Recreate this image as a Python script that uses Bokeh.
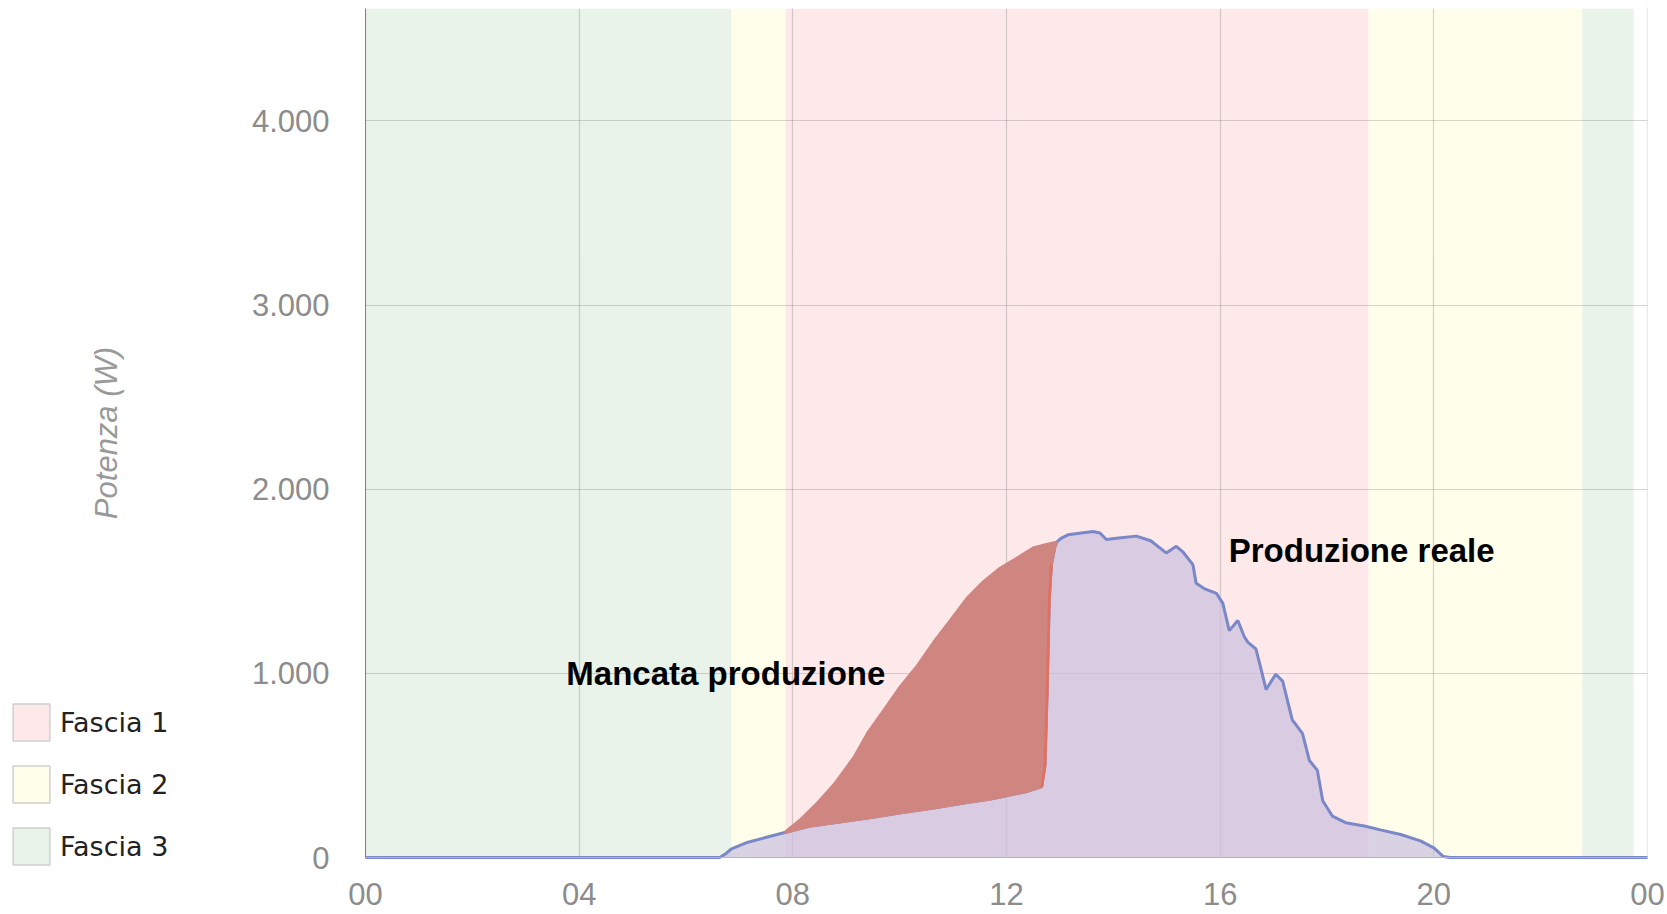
from bokeh.plotting import figure
from bokeh.models import ColumnDataSource, Label, Legend, LegendItem, FixedTicker, BoxAnnotation
from bokeh.embed import file_html
from bokeh.resources import INLINE

# ---------------- data ----------------
# Produzione reale (W) over the day (hours)
hours_actual = [0, 6.63, 6.75, 6.85, 7.16, 7.47, 7.85, 8.3, 8.77, 9.4, 10.02, 10.6, 11.26,
                11.7, 12.0, 12.4, 12.66, 12.72, 12.76, 12.80, 12.84, 12.9, 12.94, 13.02,
                13.15, 13.4, 13.62, 13.75, 13.87, 14.1, 14.43, 14.7, 14.99, 15.18, 15.3,
                15.49, 15.55, 15.7, 15.93, 16.05, 16.17, 16.33, 16.45, 16.52, 16.67, 16.75,
                16.86, 17.04, 17.17, 17.35, 17.54, 17.67, 17.82, 17.92, 18.1, 18.35, 18.72,
                19.0, 19.38, 19.75, 20.0, 20.18, 20.3, 24]
power_actual = [0, 0, 22, 47, 83, 107, 136, 170, 188, 215, 243, 268, 298,
                318, 335, 360, 385, 500, 900, 1400, 1590, 1680, 1712, 1733,
                1752, 1762, 1770, 1762, 1727, 1735, 1745, 1720, 1654, 1690, 1660,
                1590, 1489, 1460, 1434, 1380, 1232, 1287, 1200, 1168, 1132, 1040,
                912, 995, 958, 747, 674, 527, 473, 308, 225, 189, 170,
                150, 125, 90, 52, 5, 0, 0]

# Mancata produzione: upper boundary (expected production) where it differs
hours_expected = [7.85, 8.15, 8.47, 8.78, 9.15, 9.4, 9.71, 10.02, 10.33, 10.64, 10.95,
                  11.26, 11.57, 11.88, 12.2, 12.5, 12.75, 12.94]
power_expected = [136, 207, 298, 399, 546, 675, 802, 930, 1040, 1170, 1287,
                  1407, 1498, 1571, 1626, 1681, 1700, 1712]

# Fasce orarie
band_start = [0, 6.85, 7.86, 18.78, 22.78]
band_end = [6.85, 7.86, 18.78, 22.78, 23.74]
band_fascia = ["Fascia 3", "Fascia 2", "Fascia 1", "Fascia 2", "Fascia 3"]
fasce = ["Fascia 1", "Fascia 2", "Fascia 3"]
fascia_colors = {"Fascia 1": "#fde8ea", "Fascia 2": "#fefeea", "Fascia 3": "#e9f3ea"}

x_ticks = [0, 4, 8, 12, 16, 20, 24]
x_tick_labels = ["00", "04", "08", "12", "16", "20", "00"]
y_ticks = [0, 1000, 2000, 3000, 4000]
y_tick_labels = ["0", "1.000", "2.000", "3.000", "4.000"]
x_min, x_max = 0, 24
y_min, y_max = 0, 4610

# ---------------- layout (screen geometry) ----------------
W, H = 1666, 912
px_per_h = 1282 / 24.0          # frame 0..24 h spans 1282 px
px_per_w = 849 / float(y_max)   # 0..y_max spans 849 px
x0_px, y0_px = 365, 857         # canvas position of (0 h, 0 W)

p = figure(width=W, height=H,
           x_range=(-x0_px / px_per_h, (W - x0_px) / px_per_h),
           y_range=(-(H - y0_px) / px_per_w, y0_px / px_per_w),
           output_backend="svg", toolbar_location=None,
           min_border_left=0, min_border_right=0, min_border_top=0, min_border_bottom=0)
p.outline_line_color = None
p.background_fill_color = "white"
p.border_fill_color = "white"

# bands (lowest level)
band_src = ColumnDataSource(dict(left=band_start, right=band_end,
                                 color=[fascia_colors[f] for f in band_fascia]))
p.quad(left="left", right="right", bottom=y_min, top=y_max, fill_color="color",
       line_color=None, source=band_src, level="image")

# grid
p.xgrid.ticker = FixedTicker(ticks=x_ticks)
p.ygrid.ticker = FixedTicker(ticks=y_ticks)
for g in (p.xgrid, p.ygrid):
    g.grid_line_color = "#888888"
    g.grid_line_alpha = 0.35
    g.grid_line_width = 1.2

# mask grid outside the data area
for kw in (dict(right=x_min), dict(left=x_max), dict(top=y_min), dict(bottom=y_max)):
    p.add_layout(BoxAnnotation(fill_color="white", fill_alpha=1, line_color=None,
                               level="underlay", **kw))

# produzione reale area + line
p.varea(x=hours_actual, y1=0, y2=power_actual, fill_color="#cac1df", fill_alpha=0.72)
p.line(hours_actual, power_actual, line_color="#7a88c8", line_width=3)

# mancata produzione region (between actual and expected)
inside = [hours_expected[0] <= h <= hours_expected[-1] for h in hours_actual]
lower_h = [h for h, k in zip(hours_actual, inside) if k]
lower_p = [w for w, k in zip(power_actual, inside) if k]
patch_x = hours_expected + lower_h[::-1]
patch_y = power_expected + lower_p[::-1]
p.patch(patch_x, patch_y, fill_color="#cf8580", line_color="#cf8580", line_width=3)
# brighter red edge along the steep recovery of production
edge_h = [h for h, w in zip(lower_h, lower_p) if 380 <= w <= 1600]
edge_p = [w for w in lower_p if 380 <= w <= 1600]
p.line(edge_h, edge_p, line_color="#e2705f", line_width=2.5)

# axes (fixed at the data origin)
p.xaxis.fixed_location = 0
p.yaxis.fixed_location = 0
p.xaxis.bounds = (x_min, x_max)
p.yaxis.bounds = (y_min, y_max)
p.xaxis.ticker = FixedTicker(ticks=x_ticks)
p.xaxis.major_label_overrides = {t: l for t, l in zip(x_ticks, x_tick_labels)}
p.yaxis.ticker = FixedTicker(ticks=y_ticks)
p.yaxis.major_label_overrides = {t: l for t, l in zip(y_ticks, y_tick_labels)}
for ax in (p.xaxis, p.yaxis):
    ax.major_tick_line_color = None
    ax.minor_tick_line_color = None
    ax.major_tick_out = 0
    ax.major_tick_in = 0
    ax.major_label_text_font = "Liberation Sans"
    ax.major_label_text_font_size = "31px"
    ax.major_label_text_color = "#8c8c8c"
p.xaxis.axis_line_color = "#b4b4b4"
p.yaxis.axis_line_color = "#808080"
p.xaxis.major_label_standoff = 25
p.yaxis.major_label_standoff = 36
p.yaxis.axis_label = "Potenza (W)"
p.yaxis.axis_label_text_font = "Liberation Sans"
p.yaxis.axis_label_text_font_style = "italic"
p.yaxis.axis_label_text_font_size = "31px"
p.yaxis.axis_label_text_color = "#999999"
p.yaxis.axis_label_standoff = 125

# legend (hidden renderers carrying the legend swatch style)
items = []
for f in fasce:
    sel = [i for i, b in enumerate(band_fascia) if b == f]
    src = ColumnDataSource(dict(left=[band_start[i] for i in sel],
                                right=[band_end[i] for i in sel]))
    r = p.quad(left="left", right="right", bottom=y_min, top=y_max, source=src,
               fill_color=fascia_colors[f], line_color="#cfcfcf", line_width=1.5,
               visible=False)
    items.append(LegendItem(label=f, renderers=[r]))
legend = Legend(items=items, location=(8, 43), orientation="vertical",
                glyph_width=46, glyph_height=46, spacing=16, padding=0, margin=0,
                label_standoff=6, label_text_font="DejaVu Sans", label_text_font_size="27px",
                label_text_color="#222222", background_fill_alpha=0, border_line_color=None)
p.add_layout(legend, "center")

# annotations
p.add_layout(Label(x=3.76, y=1000, text="Mancata produzione", text_font="Liberation Sans",
                   text_font_style="bold", text_font_size="33px", text_baseline="middle",
                   text_color="black"))
p.add_layout(Label(x=16.16, y=1668, text="Produzione reale", text_font="Liberation Sans",
                   text_font_style="bold", text_font_size="33px", text_baseline="middle",
                   text_color="black"))

open("out.html", "w").write(file_html(p, INLINE))
